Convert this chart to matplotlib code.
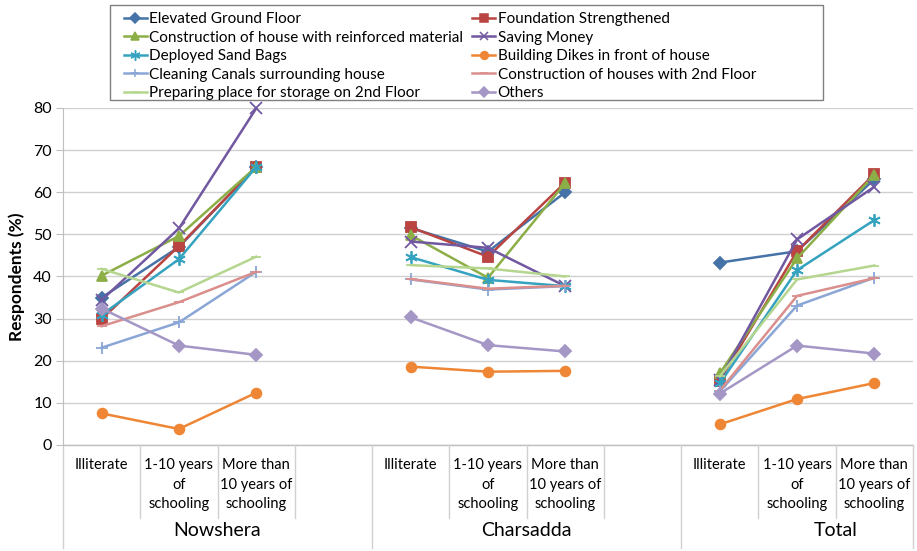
import numpy as np
import matplotlib.pyplot as plt
from matplotlib.lines import Line2D
from matplotlib.patches import Rectangle

plt.rcParams['font.family'] = ['Lato', 'DejaVu Sans']

# categories (11 slots, two empty spacer slots between districts)
groups = ["Nowshera", "Charsadda", "Total"]
levels = ["Illiterate", "1-10 years\nof\nschooling", "More than\n10 years of\nschooling"]

# values per district: [Illiterate, 1-10 yrs, >10 yrs]
elevated = [35.0, 47.0, 66.0, 51.5, 45.9, 60.0, 43.3, 46.0, 63.1]
foundation = [29.9, 47.2, 66.0, 51.7, 44.7, 62.3, 15.3, 46.0, 64.3]
reinforced = [40.2, 49.6, 66.0, 49.8, 39.7, 62.2, 17.0, 44.3, 64.1]
saving = [34.4, 51.4, 79.9, 48.3, 46.8, 37.7, 15.5, 48.8, 61.3]
sandbags = [30.9, 44.1, 66.0, 44.6, 39.2, 37.7, 14.6, 41.5, 53.4]
dikes = [7.5, 3.8, 12.4, 18.6, 17.4, 17.6, 4.9, 10.9, 14.7]
canals = [23.1, 29.1, 41.1, 39.3, 36.9, 37.7, 12.7, 33.1, 39.7]
second_floor = [28.2, 33.9, 41.1, 39.4, 37.1, 37.8, 12.9, 35.4, 39.6]
storage = [41.8, 36.2, 44.7, 42.7, 41.9, 40.0, 16.3, 39.3, 42.6]
others = [32.4, 23.6, 21.4, 30.3, 23.7, 22.2, 12.2, 23.6, 21.7]

series = [
    ("Elevated Ground Floor", elevated, "#4572A7", "D", 6),
    ("Foundation Strengthened", foundation, "#B94441", "s", 7),
    ("Construction of house with reinforced material", reinforced, "#8CAE47", "^", 7),
    ("Saving Money", saving, "#7158A0", "x", 8),
    ("Deployed Sand Bags", sandbags, "#35A3C0", (6, 2, 0), 9),
    ("Building Dikes in front of house", dikes, "#EE8635", "o", 7),
    ("Cleaning Canals surrounding house", canals, "#8AA6D6", "+", 8),
    ("Construction of houses with 2nd Floor", second_floor, "#DA8F8D", "_", 7),
    ("Preparing place for storage on 2nd Floor", storage, "#B5D68E", "_", 7),
    ("Others", others, "#A597C5", "D", 6),
]

slot_x = [0, 1, 2, 4, 5, 6, 8, 9, 10]

fig = plt.figure(figsize=(9.17, 5.51), dpi=100)
ax = fig.add_axes([0.0687, 0.1924, 0.9269, 0.6116])

handles = []
for name, vals, col, mk, ms in series:
    y = np.full(11, np.nan)
    y[slot_x] = vals
    ax.plot(np.arange(11), y, color=col, lw=1.8, marker=mk, ms=ms,
            mec=col, mfc=col, mew=1.3, clip_on=False)
    handles.append(Line2D([], [], color=col, lw=1.8, marker=mk, ms=ms * 0.8,
                          mec=col, mfc=col, mew=1.1))

ax.set_xlim(-0.5, 10.5)
ax.set_ylim(0, 80)
ax.set_yticks(range(0, 81, 10))
ax.yaxis.grid(True, color="#D0D0D0", lw=1)
ax.set_axisbelow(True)
ax.set_xticks([])
for s in ["top", "right", "bottom"]:
    ax.spines[s].set_visible(False)
ax.spines["left"].set_color("#BFBFBF")
ax.tick_params(axis="y", direction="out", length=5, color="#BFBFBF",
               labelsize=11.5, pad=3)
ax.set_ylabel("Respondents (%)", fontsize=12.5, fontweight="bold", labelpad=6)

# bottom axis and category separators
tr = ax.get_xaxis_transform()
ax.plot([-0.5, 10.5], [0, 0], transform=tr, color="#BFBFBF", lw=1, clip_on=False)
for k in range(12):
    xb = -0.5 + k
    bottom = -0.306 if k in (0, 4, 8, 11) else -0.217
    ax.plot([xb, xb], [0, bottom], transform=tr, color="#D0D0D0", lw=1, clip_on=False)

for gi, g in enumerate(groups):
    for li, lab in enumerate(levels):
        ax.text(gi * 4 + li, -0.04, lab, transform=tr, ha="center", va="top",
                fontsize=10.5, linespacing=1.5)
    ax.text(gi * 4 + 1.5, -0.255, g, transform=tr, ha="center", va="center",
            fontsize=14)

# legend box drawn separately so it can be wider than its entries
fig.patches.append(Rectangle((110 / 917, 1 - 100 / 551), 713 / 917, 95 / 551,
                             transform=fig.transFigure, fill=True, fc="white",
                             ec="#808080", lw=1.0, zorder=5))
order = [0, 2, 4, 6, 8, 1, 3, 5, 7, 9]
leg = fig.legend([handles[i] for i in order], [series[i][0] for i in order],
                 ncol=2, loc="upper left", bbox_to_anchor=(114 / 917, 1 - 2 / 551),
                 fontsize=11, frameon=False,
                 handlelength=1.5, handletextpad=0.15, columnspacing=0.6,
                 labelspacing=0.3, borderpad=0.15)
leg.set_zorder(6)

fig.savefig("out.png", dpi=100)
